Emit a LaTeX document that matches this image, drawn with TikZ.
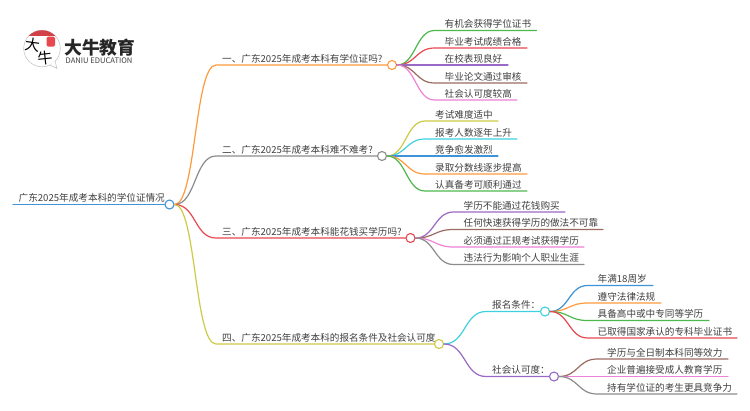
\documentclass[tikz,border=0pt]{standalone}
\usepackage{fontspec}
\setmainfont{Noto Sans CJK SC}
\usetikzlibrary{calc}
\definecolor{cOrange}{HTML}{FF9A3C}
\definecolor{cGrey}{HTML}{8C8C8C}
\definecolor{cRed}{HTML}{E8484F}
\definecolor{cOlive}{HTML}{CDCB45}
\definecolor{cBlue}{HTML}{3E94D6}
\definecolor{cGreen}{HTML}{4DB84D}
\definecolor{cPurple}{HTML}{9A68C6}
\definecolor{cBrown}{HTML}{9C6B62}
\definecolor{cPink}{HTML}{EE82D6}
\definecolor{cCyan}{HTML}{3FD0E0}
\definecolor{cText}{HTML}{404040}
\tikzset{
  hub/.style={circle,draw=#1,fill=white,line width=1.1pt,minimum size=9pt,inner sep=0pt},
  lbl/.style={anchor=base west,inner sep=0pt,text=cText,font=\fontsize{9.6pt}{11pt}\selectfont},
  wire/.style={draw=#1,line width=1.2pt,line cap=round}
}
% \leaf{colour}{parent}{name}{line y}{text x}{end x}{text}
\newcommand{\leaf}[7]{%
  \node[lbl] (#3) at (#5,{#4-2.6}) {#7};
  \coordinate (#3k) at ({#5-10},#4);
  \coordinate (#3e) at (#6,#4);
  \draw[wire=#1] let \p1=(#2.east),\p2=(#3k) in (#2.east)
     .. controls ({\x1+.5*(\x2-\x1)},\y1) and ({\x1+.5*(\x2-\x1)},\y2) .. (#3k) -- (#3e);
}
% \branch{colour}{parent}{hub name}{hub x}{line y}{text x}{text}
\newcommand{\branch}[7]{%
  \node[hub=#1] (#3) at (#4,#5) {};
  \node[lbl] (#3t) at (#6,{#5-2.6}) {#7};
  \coordinate (#3k) at ({#6-6},#5);
  \draw[wire=#1] let \p1=(#2.east),\p2=(#3k) in (#2.east)
     .. controls ({\x1+.52*(\x2-\x1)},\y1) and ({\x1+.48*(\x2-\x1)},\y2) .. (#3k) -- (#3.west);
}
\begin{document}
\begin{tikzpicture}[x=1pt,y=-1pt]
\useasboundingbox (0,0) rectangle (750,410);
\fill[white] (0,0) rectangle (750,410);
% logo
\coordinate (logoC) at (42,48.5);
\draw[black!25,line width=.5pt,fill=white] (logoC) circle (18.3);
\draw[black!25,line width=.5pt,fill=white] (50,65) -- (57,68.5) -- (55,61);
\begin{scope}
  \clip (logoC) circle (18.3);
  \fill[cRed!90!black] (23,30) rectangle (61,36);
\end{scope}
\fill[cRed,rounded corners=1.5pt] (46.5,36.5) rectangle (55,46.5);
\node[inner sep=0pt,text=black,rotate=-8,font=\fontsize{15pt}{15pt}\selectfont] (logoA) at (33,45) {大};
\node[inner sep=0pt,text=black,rotate=6,font=\fontsize{15pt}{15pt}\selectfont] (logoB) at (45,58) {牛};
\node[anchor=base west,inner sep=0pt,text=black!85,font=\fontsize{17.8pt}{18pt}\selectfont\bfseries] (logoT) at (64,54) {大牛教育};
\node[anchor=base west,inner sep=0pt,text=black!75,font=\fontsize{7.6pt}{8pt}\selectfont] (logoS) at (65.5,63.3) {DANIU EDUCATION};
% root
\node[hub=cBlue] (root) at (169.5,204.5) {};
\node[lbl] (roott) at (18.5,201.9) {广东2025年成考本科的学位证情况};
\coordinate (rootS) at (13,204.5);
\draw[wire=cBlue] (rootS) -- (root.west);
% main branches
\branch{cOrange}{root}{a}{392}{65}{222}{一、广东2025年成考本科有学位证吗?}
\branch{cGrey}{root}{b}{382}{156}{222}{二、广东2025年成考本科难不难考?}
\branch{cRed}{root}{c}{410.5}{238}{222}{三、广东2025年成考本科能花钱买学历吗?}
\branch{cOlive}{root}{d}{439}{344}{222}{四、广东2025年成考本科的报名条件及社会认可度}
% branch a
\leaf{cGreen}{a}{a1}{30.5}{444.5}{536.5}{有机会获得学位证书}
\leaf{cRed}{a}{a2}{48}{444.5}{527}{毕业考试成绩合格}
\leaf{cPurple}{a}{a3}{65}{444.5}{508}{在校表现良好}
\leaf{cBrown}{a}{a4}{83}{444.5}{527}{毕业论文通过审核}
\leaf{cPink}{a}{a5}{100}{444.5}{517}{社会认可度较高}
% branch b
\leaf{cOlive}{b}{b1}{121}{435}{498}{考试难度适中}
\leaf{cCyan}{b}{b2}{139}{435}{517}{报考人数逐年上升}
\leaf{cBlue}{b}{b3}{156}{435}{498}{竞争愈发激烈}
\leaf{cOrange}{b}{b4}{174}{435}{527}{录取分数线逐步提高}
\leaf{cGreen}{b}{b5}{191}{435}{527}{认真备考可顺利通过}
% branch c
\leaf{cPurple}{c}{c1}{212}{463.5}{565}{学历不能通过花钱购买}
\leaf{cBrown}{c}{c2}{229.5}{463.5}{603}{任何快速获得学历的做法不可靠}
\leaf{cPink}{c}{c3}{247}{463.5}{584}{必须通过正规考试获得学历}
\leaf{cGrey}{c}{c4}{264.5}{463.5}{584}{违法行为影响个人职业生涯}
% branch d
\branch{cCyan}{d}{e}{545}{311.5}{492}{报名条件：}
\branch{cPurple}{d}{f}{554}{376.5}{492}{社会认可度：}
\leaf{cBlue}{e}{e1}{285.5}{597.5}{653}{年满18周岁}
\leaf{cOrange}{e}{e2}{303}{597.5}{661}{遵守法律法规}
\leaf{cGreen}{e}{e3}{320.5}{597.5}{709}{具备高中或中专同等学历}
\leaf{cRed}{e}{e4}{338}{597.5}{737}{已取得国家承认的专科毕业证书}
\leaf{cBrown}{f}{f1}{359}{607}{728}{学历与全日制本科同等效力}
\leaf{cPink}{f}{f2}{376.5}{607}{728}{企业普遍接受成人教育学历}
\leaf{cGrey}{f}{f3}{394}{607}{737}{持有学位证的考生更具竞争力}
\end{tikzpicture}
\end{document}
